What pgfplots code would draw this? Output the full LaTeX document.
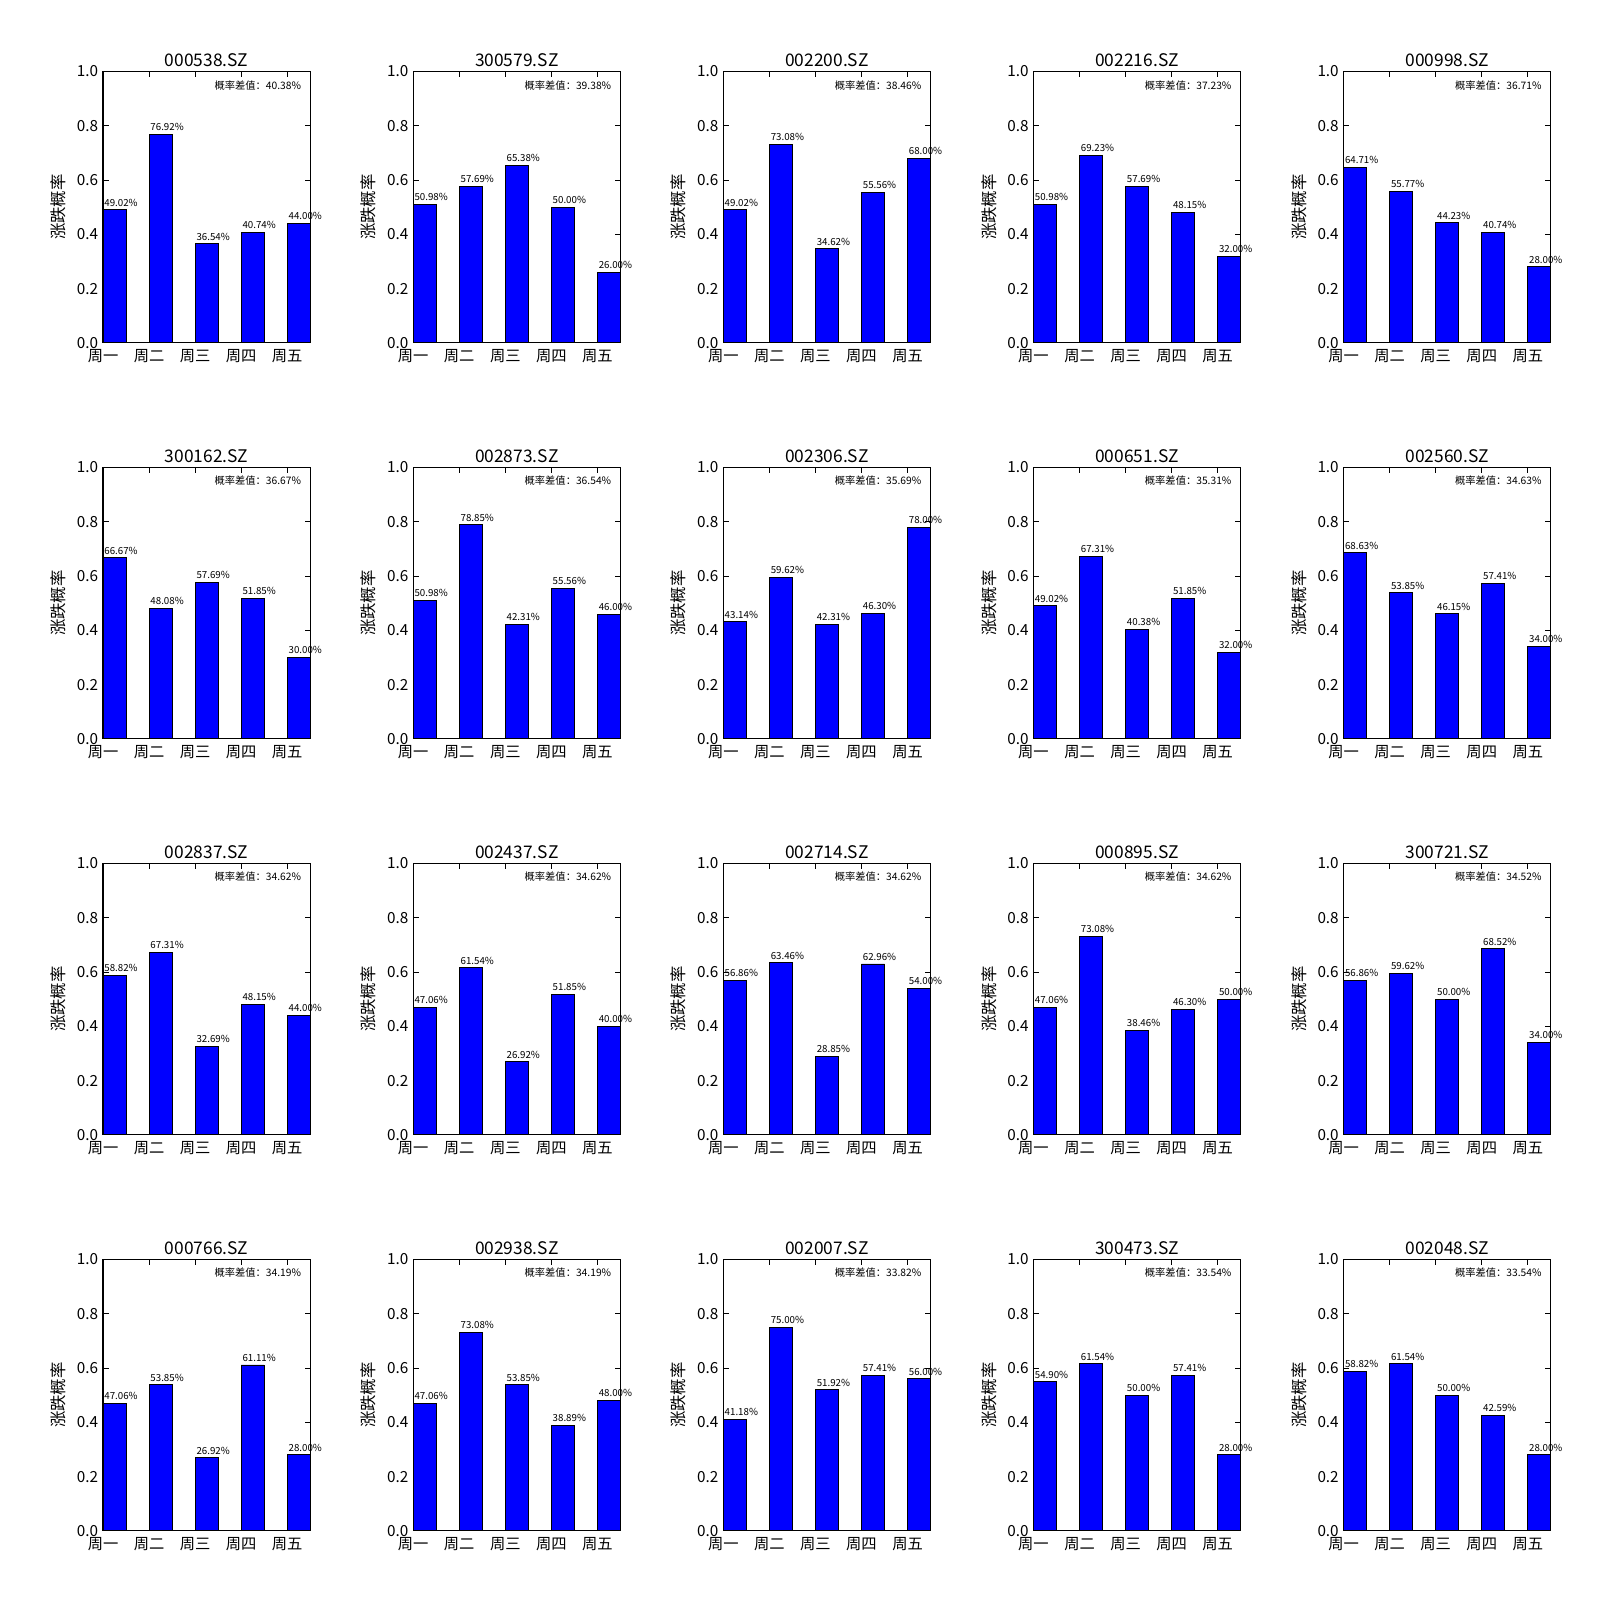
\documentclass[border=0pt]{standalone}
\usepackage{pgfplots}
\pgfplotsset{compat=1.18}
\usepackage{pgfplotstable}
\usepackage{fontspec}
\setmainfont{Noto Sans CJK SC}

\pgfplotstableread{
x c000538 c300579 c002200 c002216 c000998 c300162 c002873 c002306 c000651 c002560 c002837 c002437 c002714 c000895 c300721 c000766 c002938 c002007 c300473 c002048
0 0.4902 0.5098 0.4902 0.5098 0.6471 0.6667 0.5098 0.4314 0.4902 0.6863 0.5882 0.4706 0.5686 0.4706 0.5686 0.4706 0.4706 0.4118 0.5490 0.5882
1 0.7692 0.5769 0.7308 0.6923 0.5577 0.4808 0.7885 0.5962 0.6731 0.5385 0.6731 0.6154 0.6346 0.7308 0.5962 0.5385 0.7308 0.7500 0.6154 0.6154
2 0.3654 0.6538 0.3462 0.5769 0.4423 0.5769 0.4231 0.4231 0.4038 0.4615 0.3269 0.2692 0.2885 0.3846 0.5000 0.2692 0.5385 0.5192 0.5000 0.5000
3 0.4074 0.5000 0.5556 0.4815 0.4074 0.5185 0.5556 0.4630 0.5185 0.5741 0.4815 0.5185 0.6296 0.4630 0.6852 0.6111 0.3889 0.5741 0.5741 0.4259
4 0.4400 0.2600 0.6800 0.3200 0.2800 0.3000 0.4600 0.7800 0.3200 0.3400 0.4400 0.4000 0.5400 0.5000 0.3400 0.2800 0.4800 0.5600 0.2800 0.2800
}\data

\newcommand{\smallfont}{\fontsize{7}{8}\selectfont}
\newcommand{\annfont}{\fontsize{7.4}{8}\selectfont}
\pgfplotsset{
  panel/.style={
    width=149.2pt, height=195.4pt, scale only axis,
    anchor=south west,
    xmin=0, xmax=4.5, ymin=0, ymax=1,
    xtick={0,1,2,3,4},
    xticklabels={周一,周二,周三,周四,周五},
    ytick={0,0.2,0.4,0.6,0.8,1},
    yticklabels={0.0,0.2,0.4,0.6,0.8,1.0},
    ylabel={涨跌概率},
    clip=false,
    axis line style={line width=0.8pt, black},
    tick style={black, line width=0.6pt},
    major tick length=4pt,
    tick align=inside,
    ticklabel style={font=\fontsize{11}{13}\selectfont},
    xticklabel style={yshift=-1pt},
    label style={font=\fontsize{11.8}{13}\selectfont},
    ylabel style={yshift=1pt},
    title style={font=\fontsize{12.5}{14}\selectfont, yshift=-6pt},
    /pgf/number format/assume math mode=true,
  }
}

\newcommand{\panel}[4]{%
\begin{axis}[panel,
  at={({74.2pt+#1*223.3pt},{905.1pt-#2*285.1pt})},
  title={#3.SZ}]
\addplot[ybar, bar width=0.5, bar shift=0.25, fill=blue, draw=black, line width=0.7pt]
  table[x=x, y=c#3]{\data};
\addplot[draw=none, mark=none,
  point meta={\thisrow{c#3}*100},
  nodes near coords={\pgfmathprintnumber[fixed,fixed zerofill,precision=2]{\pgfplotspointmeta}\%},
  every node near coord/.append style={anchor=base west, inner sep=0pt, xshift=0.8pt, yshift=2.6pt, font=\smallfont, text=black}]
  table[x=x, y=c#3]{\data};
\node[font=\annfont, inner sep=0pt] at (axis cs:3.36,0.95) {概率差值：#4\%};
\end{axis}}

\begin{document}
\begin{tikzpicture}
\path[use as bounding box] (0,0) rectangle (1152pt,1152pt);
\panel{0}{0}{000538}{40.38}
\panel{1}{0}{300579}{39.38}
\panel{2}{0}{002200}{38.46}
\panel{3}{0}{002216}{37.23}
\panel{4}{0}{000998}{36.71}
\panel{0}{1}{300162}{36.67}
\panel{1}{1}{002873}{36.54}
\panel{2}{1}{002306}{35.69}
\panel{3}{1}{000651}{35.31}
\panel{4}{1}{002560}{34.63}
\panel{0}{2}{002837}{34.62}
\panel{1}{2}{002437}{34.62}
\panel{2}{2}{002714}{34.62}
\panel{3}{2}{000895}{34.62}
\panel{4}{2}{300721}{34.52}
\panel{0}{3}{000766}{34.19}
\panel{1}{3}{002938}{34.19}
\panel{2}{3}{002007}{33.82}
\panel{3}{3}{300473}{33.54}
\panel{4}{3}{002048}{33.54}
\end{tikzpicture}
\end{document}
